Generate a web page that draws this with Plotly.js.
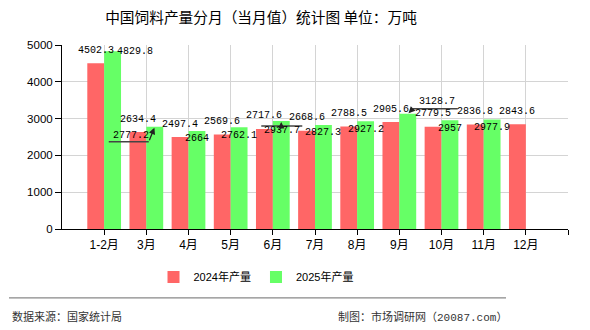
<!DOCTYPE html>
<html>
<head>
<meta charset="utf-8">
<script src="https://cdn.plot.ly/plotly-3.0.1.min.js"></script>
<style>
  html, body { margin: 0; padding: 0; background: #fff; }
  #chart { width: 590px; height: 330px; }
</style>
</head>
<body>
<div id="chart"></div>
<script>
// Monthly feed output (10k tonnes)
const months = ['1-2月', '3月', '4月', '5月', '6月', '7月', '8月', '9月', '10月', '11月', '12月'];
const output2024 = [4502.3, 2634.4, 2497.4, 2569.6, 2717.6, 2668.6, 2788.5, 2905.6, 2779.5, 2836.8, 2843.6];
const output2025 = [4829.8, 2777.2, 2664, 2762.1, 2937.7, 2827.3, 2927.2, 3128.7, 2957, 2977.9];
const seriesNames = ['2024年产量', '2025年产量'];

const RED = '#ff6666';
const GREEN = '#66ff66';
const LABEL_FONT = { family: 'Liberation Mono, DejaVu Sans Mono, monospace', size: 10, color: '#000' };
const CJK = 'Noto Sans CJK SC, sans-serif';

const xIdx = months.map((_, i) => i);
const OFF = 0.2; // half a bar: each bar is 0.4 of a category

const traces = [
  { type: 'bar', name: seriesNames[0], x: xIdx, y: output2024, marker: { color: RED }, hoverinfo: 'skip' },
  { type: 'bar', name: seriesNames[1], x: xIdx.slice(0, output2025.length), y: output2025, marker: { color: GREEN }, hoverinfo: 'skip' }
];

// value-label placement tweaks for the 2025 series (pixel offsets)
const labelTweaks = {
  0: { dx: 22, dy: 0 },
  1: { dx: -24, dy: -8.5, line: [-46, -6, -15], arrow: [-6, 15] },
  4: { dx: 1, dy: -10, line: [-20, 21, -5], arrow: [0, 5] },
  7: { dx: 29.5, dy: 12, line: [5, 50, 5], arrow: [5, -5] }
};

const annotations = [];
const shapes = [];

output2024.forEach((v, i) => {
  annotations.push({
    x: i - OFF, y: v, xref: 'x', yref: 'y', text: String(v), showarrow: false,
    yshift: 13, xanchor: 'center', yanchor: 'middle', font: LABEL_FONT
  });
});

output2025.forEach((v, i) => {
  const t = labelTweaks[i] || { dx: 0, dy: -8 };
  annotations.push({
    x: i + OFF, y: v, xref: 'x', yref: 'y', text: String(v), showarrow: false,
    xshift: t.dx, yshift: t.dy, xanchor: 'center', yanchor: 'middle', font: LABEL_FONT
  });
  if (t.line) {
    shapes.push({
      type: 'line', xref: 'x', yref: 'y',
      xsizemode: 'pixel', xanchor: i + OFF, x0: t.line[0], x1: t.line[1],
      ysizemode: 'pixel', yanchor: v, y0: t.line[2], y1: t.line[2],
      line: { color: '#444', width: 1.5 }
    });
    annotations.push({
      x: i + OFF, y: v, xref: 'x', yref: 'y', text: '', showarrow: true,
      ax: t.arrow[0], ay: t.arrow[1], arrowhead: 2, arrowsize: 1, arrowwidth: 1.3,
      arrowcolor: '#222', standoff: 1
    });
  }
});

// plot-area geometry used for placing the footer
const L = 62, R = 568, T = 45, B = 229.3;
const px2x = px => (px - L) / (R - L);
const py2y = py => (B - py) / (B - T);

annotations.push({
  xref: 'paper', yref: 'paper', x: px2x(10), y: py2y(316), xanchor: 'left', yanchor: 'middle',
  text: '数据来源：国家统计局', showarrow: false, font: { family: CJK, size: 11, color: '#333' }
});
annotations.push({
  xref: 'paper', yref: 'paper', x: px2x(509), y: py2y(316), xanchor: 'right', yanchor: 'middle',
  text: '制图：市场调研网（<span style="font-family:Liberation Mono">20087.com</span>）', showarrow: false,
  font: { family: CJK, size: 11, color: '#333' }
});
shapes.push({
  type: 'line', xref: 'paper', yref: 'paper',
  x0: px2x(9), x1: px2x(506), y0: py2y(298.3), y1: py2y(298.3),
  line: { color: '#888', width: 1.2 }
});

const layout = {
  width: 590, height: 330,
  margin: { l: L, r: 590 - R, t: T, b: 330 - B },
  paper_bgcolor: '#fff', plot_bgcolor: '#fff',
  barmode: 'group', bargap: 0.2, bargroupgap: 0,
  title: {
    text: '中国饲料产量分月（当月值）统计图 单位：万吨',
    x: 261 / 590, xref: 'container', xanchor: 'center',
    y: 1 - 18 / 330, yref: 'container', yanchor: 'middle',
    font: { family: CJK, size: 14.7, color: '#000' }
  },
  xaxis: {
    type: 'linear', range: [-1, 11],
    tickvals: xIdx.concat([months.length]), ticktext: months.concat(['']),
    showgrid: true, gridcolor: '#d4d4d4', gridwidth: 1,
    showline: true, linecolor: '#000', linewidth: 1,
    ticks: 'outside', ticklen: 5, tickcolor: '#000',
    zeroline: false,
    tickfont: { family: 'Liberation Sans, ' + CJK, size: 12, color: '#000' }
  },
  yaxis: {
    range: [0, 5000], dtick: 1000,
    showgrid: true, gridcolor: '#d4d4d4', gridwidth: 1,
    showline: true, linecolor: '#000', linewidth: 1,
    ticks: 'outside', ticklen: 6, tickcolor: '#000',
    zeroline: false,
    tickfont: { family: 'Liberation Sans, sans-serif', size: 11.5, color: '#000' }
  },
  showlegend: true,
  legend: {
    orientation: 'h', xref: 'container', yref: 'container',
    x: 256 / 590, xanchor: 'center', y: 1 - 277 / 330, yanchor: 'middle',
    font: { family: 'Liberation Sans, ' + CJK, size: 11, color: '#000' },
    itemclick: false, itemdoubleclick: false, traceorder: 'normal'
  },
  annotations: annotations,
  shapes: shapes
};

Plotly.newPlot('chart', traces, layout, { displayModeBar: false, staticPlot: true });
</script>
</body>
</html>
